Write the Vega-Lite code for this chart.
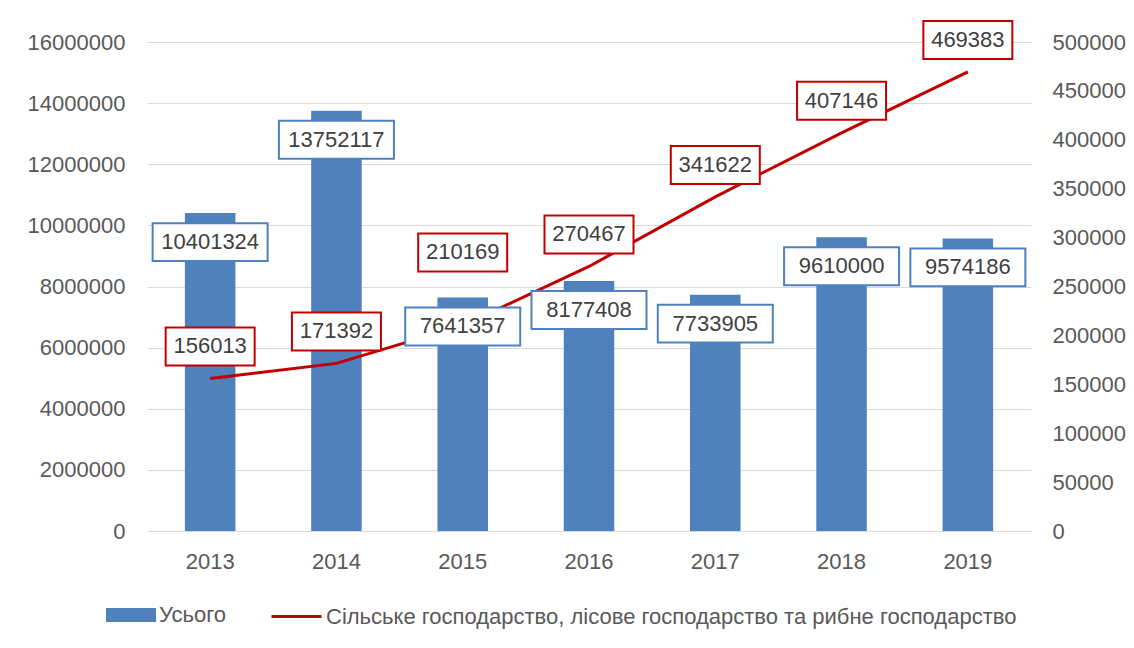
{
  "$schema": "https://vega.github.io/schema/vega-lite/v6.json",
  "width": 884,
  "height": 489,
  "autosize": {"type": "none"},
  "padding": {"left": 147, "top": 42, "right": 103, "bottom": 117},
  "background": "white",
  "config": {
    "view": {"stroke": null},
    "font": "Liberation Sans",
    "axis": {"labelFont": "Liberation Sans", "labelFontSize": 22, "labelColor": "#595959", "domain": false, "ticks": false, "title": null},
    "legend": {"labelFont": "Liberation Sans", "labelFontSize": 22, "labelColor": "#595959", "padding": 0, "labelOffset": 3, "labelLimit": 1000}
  },
  "data": {
    "values": [
      {"year": "2013", "total": 10401324, "agri": 156013},
      {"year": "2014", "total": 13752117, "agri": 171392},
      {"year": "2015", "total": 7641357, "agri": 210169},
      {"year": "2016", "total": 8177408, "agri": 270467},
      {"year": "2017", "total": 7733905, "agri": 341622},
      {"year": "2018", "total": 9610000, "agri": 407146},
      {"year": "2019", "total": 9574186, "agri": 469383}
    ]
  },
  "layer": [
    {
      "mark": {"type": "bar"},
      "encoding": {
        "x": {"field": "year", "type": "ordinal", "scale": {"paddingInner": 0.6, "paddingOuter": 0.3}, "axis": {"labelAngle": 0, "labelPadding": 20, "title": null}},
        "y": {"field": "total", "type": "quantitative", "scale": {"domain": [0, 16000000]}, "axis": {"orient": "left", "values": [0, 2000000, 4000000, 6000000, 8000000, 10000000, 12000000, 14000000, 16000000], "format": "d", "grid": true, "gridColor": "#D9D9D9", "labelPadding": 22}},
        "fill": {"datum": "Усього", "type": "nominal", "scale": {"range": ["#4F81BD"]}, "legend": {"orient": "none", "legendX": -41, "legendY": 548, "title": null, "symbolType": "M-1,-0.28H1V0.28H-1Z", "symbolSize": 2500, "symbolStrokeWidth": 0}}
      }
    },
    {
      "mark": {"type": "line", "strokeWidth": 3},
      "encoding": {
        "x": {"field": "year", "type": "ordinal"},
        "y": {"field": "agri", "type": "quantitative", "scale": {"domain": [0, 500000]}, "axis": {"orient": "right", "values": [0, 50000, 100000, 150000, 200000, 250000, 300000, 350000, 400000, 450000, 500000], "format": "d", "grid": false, "labelPadding": 21}},
        "stroke": {"datum": "Сільське господарство, лісове господарство та рибне господарство", "type": "nominal", "scale": {"range": ["#C00000"]}, "legend": {"orient": "none", "legendX": 123, "legendY": 548, "title": null, "symbolType": "stroke", "symbolSize": 2500, "symbolStrokeWidth": 3}}
      }
    },
    {
      "mark": {"type": "point", "shape": "M-1,-0.33H1V0.33H-1Z", "size": 13225, "filled": true, "fill": "white", "stroke": "#4F81BD", "strokeWidth": 2, "opacity": 1, "yOffset": 29},
      "encoding": {
        "x": {"field": "year", "type": "ordinal"},
        "y": {"field": "total", "type": "quantitative", "scale": {"domain": [0, 16000000]}, "axis": null}
      }
    },
    {
      "mark": {"type": "text", "dy": 29, "fontSize": 22, "color": "#404040"},
      "encoding": {
        "x": {"field": "year", "type": "ordinal"},
        "y": {"field": "total", "type": "quantitative", "scale": {"domain": [0, 16000000]}, "axis": null},
        "text": {"field": "total", "type": "quantitative", "format": "d"}
      }
    },
    {
      "transform": [{"filter": "datum.year != '2015'"}],
      "mark": {"type": "point", "shape": "M-1,-0.427H1V0.427H-1Z", "size": 7921, "filled": true, "fill": "white", "stroke": "#C00000", "strokeWidth": 2, "opacity": 1, "yOffset": -32},
      "encoding": {
        "x": {"field": "year", "type": "ordinal"},
        "y": {"field": "agri", "type": "quantitative", "scale": {"domain": [0, 500000]}, "axis": null}
      }
    },
    {
      "transform": [{"filter": "datum.year != '2015'"}],
      "mark": {"type": "text", "dy": -32, "fontSize": 22, "color": "#404040"},
      "encoding": {
        "x": {"field": "year", "type": "ordinal"},
        "y": {"field": "agri", "type": "quantitative", "scale": {"domain": [0, 500000]}, "axis": null},
        "text": {"field": "agri", "type": "quantitative", "format": "d"}
      }
    },
    {
      "transform": [{"filter": "datum.year == '2015'"}],
      "mark": {"type": "point", "shape": "M-1,-0.427H1V0.427H-1Z", "size": 7921, "filled": true, "fill": "white", "stroke": "#C00000", "strokeWidth": 2, "opacity": 1, "yOffset": -73},
      "encoding": {
        "x": {"field": "year", "type": "ordinal"},
        "y": {"field": "agri", "type": "quantitative", "scale": {"domain": [0, 500000]}, "axis": null}
      }
    },
    {
      "transform": [{"filter": "datum.year == '2015'"}],
      "mark": {"type": "text", "dy": -73, "fontSize": 22, "color": "#404040"},
      "encoding": {
        "x": {"field": "year", "type": "ordinal"},
        "y": {"field": "agri", "type": "quantitative", "scale": {"domain": [0, 500000]}, "axis": null},
        "text": {"field": "agri", "type": "quantitative", "format": "d"}
      }
    }
  ],
  "resolve": {"scale": {"y": "independent"}}
}
